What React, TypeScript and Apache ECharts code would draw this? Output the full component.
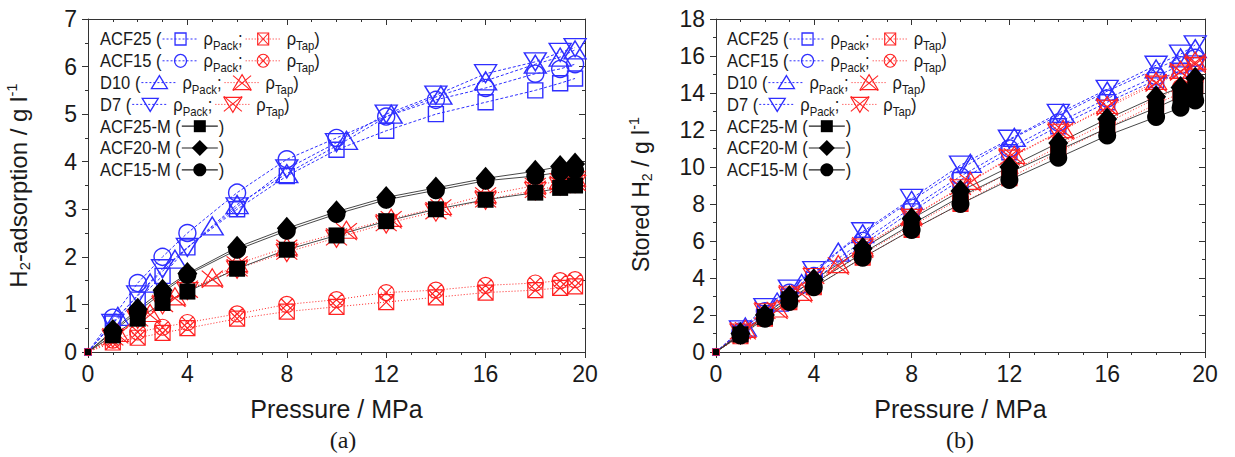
import React, { useEffect, useRef } from "react";
import * as echarts from "echarts";

// ---------- data ----------
const pStd = [0, 1, 2, 3, 4, 6, 8, 10, 12, 14, 16, 18, 19, 19.6];
const pD10 = [0, 1.2, 2.5, 3.5, 5, 6, 8, 10.4, 12.2, 14.2, 16, 18, 19, 19.6];

const xTicks = [0, 4, 8, 12, 16, 20];

// (a) H2 adsorption / g l-1
const aACF25Pack = [0, 0.6, 1.1, 1.6, 2.2, 3.0, 3.7, 4.25, 4.65, 5.0, 5.25, 5.5, 5.65, 5.75];
const aACF15Pack = [0, 0.72, 1.45, 2.0, 2.5, 3.35, 4.05, 4.5, 4.95, 5.3, 5.55, 5.85, 5.95, 6.05];
const aD10Pack = [0, 0.75, 1.45, 1.95, 2.65, 3.1, 3.75, 4.45, 5.0, 5.4, 5.7, 6.05, 6.2, 6.35];
const aD7Pack = [0, 0.6, 1.2, 1.75, 2.2, 3.05, 3.85, 4.4, 5.0, 5.4, 5.85, 6.1, 6.3, 6.4];
const aACF25Tap = [0, 0.2, 0.3, 0.4, 0.5, 0.7, 0.85, 0.95, 1.05, 1.15, 1.25, 1.3, 1.35, 1.38];
const aACF15Tap = [0, 0.25, 0.42, 0.52, 0.62, 0.8, 1.0, 1.1, 1.25, 1.3, 1.4, 1.45, 1.5, 1.52];
const aD10Tap = [0, 0.38, 0.8, 1.15, 1.55, 1.85, 2.2, 2.55, 2.8, 3.05, 3.3, 3.5, 3.6, 3.65];
const aD7Tap = [0, 0.3, 0.7, 1.0, 1.3, 1.75, 2.1, 2.4, 2.7, 2.95, 3.2, 3.4, 3.5, 3.55];
const aACF25M = [0, 0.35, 0.7, 1.03, 1.27, 1.75, 2.15, 2.45, 2.75, 3.0, 3.2, 3.35, 3.45, 3.5];
const aACF20M = [0, 0.45, 0.9, 1.3, 1.65, 2.2, 2.6, 2.95, 3.25, 3.45, 3.65, 3.8, 3.9, 3.95];
const aACF15M = [0, 0.42, 0.85, 1.25, 1.62, 2.15, 2.55, 2.9, 3.2, 3.4, 3.6, 3.7, 3.78, 3.82];

// (b) Stored H2 / g l-1
const bACF25Pack = [0, 1.0, 2.1, 3.0, 3.9, 5.8, 7.6, 9.3, 10.8, 12.2, 13.5, 14.7, 15.2, 15.6];
const bACF15Pack = [0, 1.1, 2.2, 3.2, 4.1, 6.0, 7.8, 9.5, 11.0, 12.4, 13.7, 14.9, 15.5, 15.9];
const bD10Pack = [0, 1.35, 2.7, 3.7, 5.4, 6.4, 8.2, 10.2, 11.6, 12.9, 14.1, 15.3, 15.9, 16.4];
const bD7Pack = [0, 1.2, 2.4, 3.4, 4.4, 6.5, 8.3, 10.1, 11.5, 12.9, 14.2, 15.5, 16.1, 16.6];
const bACF25Tap = [0, 0.85, 1.8, 2.7, 3.5, 5.1, 6.6, 8.0, 9.4, 10.8, 12.1, 13.4, 14.0, 14.4];
const bACF15Tap = [0, 0.9, 1.9, 2.8, 3.7, 5.3, 6.8, 8.3, 9.7, 11.1, 12.4, 13.7, 14.3, 14.7];
const bD10Tap = [0, 1.2, 2.3, 3.2, 4.7, 5.6, 7.3, 9.2, 10.6, 12.0, 13.3, 14.6, 15.2, 15.7];
const bD7Tap = [0, 1.1, 2.2, 3.1, 4.1, 5.7, 7.3, 8.9, 10.5, 11.9, 13.2, 14.5, 15.1, 15.5];
const bACF25M = [0, 0.95, 1.9, 2.85, 3.7, 5.35, 6.9, 8.4, 9.7, 10.9, 12.1, 13.2, 13.8, 14.2];
const bACF20M = [0, 1.0, 2.0, 3.0, 3.9, 5.6, 7.2, 8.7, 10.0, 11.3, 12.6, 13.8, 14.3, 14.8];
const bACF15M = [0, 0.9, 1.8, 2.7, 3.5, 5.1, 6.6, 8.0, 9.3, 10.5, 11.7, 12.7, 13.2, 13.6];

// ---------- styles ----------
const FONT = '"Liberation Sans", Arial, sans-serif';
const BLUE = "#2f2fff";
const RED = "#ff2222";
const INK = "#1a1a1a";
const AXIS = "#333333";

const SYM = {
  crossSquare: "path://M0,0L10,0L10,10L0,10Z M0,0L10,10 M10,0L0,10",
  crossCircle:
    "path://M10,5A5,5,0,1,1,0,5A5,5,0,1,1,10,5Z M1.46,1.46L8.54,8.54 M8.54,1.46L1.46,8.54",
  crossTri: "path://M5,0L10,9L0,9Z M0,1L10,10 M10,1L0,10",
  crossTriDown: "path://M0,1L10,1L5,10Z M0,0L10,9 M10,0L0,9",
};

type Kind =
  | "square"
  | "circle"
  | "tri"
  | "triDown"
  | "xSquare"
  | "xCircle"
  | "xTri"
  | "xTriDown"
  | "fSquare"
  | "fDiamond"
  | "fCircle";

function sizeFn(size: number | number[]) {
  return (val: number[]) => (val[0] === 0 ? 6 : size);
}

function seriesFor(
  name: string,
  xs: number[],
  ys: number[],
  kind: Kind,
  idx: number
): any {
  const data = xs.map((x, i) => [x, ys[i]]);
  const base: any = {
    name,
    type: "line",
    xAxisIndex: idx * 2,
    yAxisIndex: idx * 2,
    data,
    silent: true,
    symbolKeepAspect: false,
  };
  let size: number | number[];
  if (kind === "square" || kind === "circle" || kind === "tri" || kind === "triDown") {
    base.symbol = kind === "square" ? "rect" : kind === "circle" ? "circle" : "triangle";
    size = kind === "square" ? 15 : kind === "circle" ? 17 : [22, 18];
    if (kind === "triDown") base.symbolRotate = 180;
    base.itemStyle = { color: "rgba(255,255,255,0)", borderColor: BLUE, borderWidth: 1.4 };
    base.lineStyle = { color: BLUE, width: 1, type: [3, 2] };
  } else if (kind[0] === "x") {
    base.symbol =
      kind === "xSquare"
        ? SYM.crossSquare
        : kind === "xCircle"
        ? SYM.crossCircle
        : kind === "xTri"
        ? SYM.crossTri
        : SYM.crossTriDown;
    size = kind === "xSquare" ? 15 : kind === "xCircle" ? 16 : [21, 19];
    base.itemStyle = { color: "rgba(255,255,255,0)", borderColor: RED, borderWidth: 1.2 };
    base.lineStyle = { color: RED, width: 1, type: [1, 2] };
  } else {
    base.symbol = kind === "fSquare" ? "rect" : kind === "fDiamond" ? "diamond" : "circle";
    size = kind === "fSquare" ? 16 : kind === "fDiamond" ? [20, 23] : 18;
    base.itemStyle = { color: "#000", borderColor: "#000", borderWidth: 0 };
    base.lineStyle = { color: "#333", width: 0.9, type: "solid" };
  }
  base.symbolSize = sizeFn(size);
  return base;
}

// ---------- legend graphics ----------
const LEG_SIZE = 19;
const SUB_SIZE = 13;
const TEXT_SX = 0.87;

const measureCtx = document.createElement("canvas").getContext("2d")!;
function measure(text: string, size: number): number {
  measureCtx.font = `${size}px "Liberation Sans"`;
  return measureCtx.measureText(text).width * TEXT_SX;
}

function markShapes(kind: Kind, cx: number, cy: number): any[] {
  const blue = { fill: "none", stroke: BLUE, lineWidth: 1.3 };
  const red = { fill: "none", stroke: RED, lineWidth: 1.1 };
  const blk = { fill: "#000", stroke: "#000", lineWidth: 0 };
  const ln = (x1: number, y1: number, x2: number, y2: number, st: any) => ({
    type: "line",
    shape: { x1, y1, x2, y2 },
    style: { stroke: st.stroke, lineWidth: st.lineWidth },
  });
  switch (kind) {
    case "square":
      return [{ type: "rect", shape: { x: cx - 5.5, y: cy - 6, width: 11, height: 12 }, style: blue }];
    case "circle":
      return [{ type: "ellipse", shape: { cx, cy, rx: 6, ry: 6.5 }, style: blue }];
    case "tri":
      return [
        { type: "polygon", shape: { points: [[cx, cy - 7], [cx + 8, cy + 6], [cx - 8, cy + 6]] }, style: blue },
      ];
    case "triDown":
      return [
        { type: "polygon", shape: { points: [[cx - 8, cy - 6], [cx + 8, cy - 6], [cx, cy + 7]] }, style: blue },
      ];
    case "xSquare":
      return [
        { type: "rect", shape: { x: cx - 5.5, y: cy - 6, width: 11, height: 12 }, style: red },
        ln(cx - 5.5, cy - 6, cx + 5.5, cy + 6, red),
        ln(cx + 5.5, cy - 6, cx - 5.5, cy + 6, red),
      ];
    case "xCircle":
      return [
        { type: "ellipse", shape: { cx, cy, rx: 6, ry: 6.5 }, style: red },
        ln(cx - 4.3, cy - 4.6, cx + 4.3, cy + 4.6, red),
        ln(cx + 4.3, cy - 4.6, cx - 4.3, cy + 4.6, red),
      ];
    case "xTri":
      return [
        { type: "polygon", shape: { points: [[cx, cy - 8], [cx + 9, cy + 7], [cx - 9, cy + 7]] }, style: red },
        ln(cx - 9, cy - 7, cx + 9, cy + 8, red),
        ln(cx + 9, cy - 7, cx - 9, cy + 8, red),
      ];
    case "xTriDown":
      return [
        { type: "polygon", shape: { points: [[cx - 9, cy - 7], [cx + 9, cy - 7], [cx, cy + 8]] }, style: red },
        ln(cx - 9, cy - 8, cx + 9, cy + 7, red),
        ln(cx + 9, cy - 8, cx - 9, cy + 7, red),
      ];
    case "fSquare":
      return [{ type: "rect", shape: { x: cx - 6, y: cy - 6, width: 12, height: 12 }, style: blk }];
    case "fDiamond":
      return [
        { type: "polygon", shape: { points: [[cx, cy - 8], [cx + 8, cy], [cx, cy + 8], [cx - 8, cy]] }, style: blk },
      ];
    case "fCircle":
      return [{ type: "circle", shape: { cx, cy, r: 6.5 }, style: blk }];
  }
  return [];
}

type Piece =
  | { t: "text"; s: string }
  | { t: "sub"; s: string }
  | { t: "gap"; w: number }
  | { t: "mark"; kind: Kind; w: number };

function legendRow(x0: number, y: number, pieces: Piece[]): any[] {
  const out: any[] = [];
  let x = x0;
  for (const p of pieces) {
    if (p.t === "text" || p.t === "sub") {
      const fs = p.t === "text" ? LEG_SIZE : SUB_SIZE;
      out.push({
        type: "text",
        x,
        y: p.t === "text" ? y : y + 7,
        scaleX: TEXT_SX,
        silent: true,
        style: { text: p.s, fontSize: fs, fontFamily: FONT, fill: INK, verticalAlign: "middle", align: "left" },
      });
      x += measure(p.s, fs);
    } else if (p.t === "gap") {
      x += p.w;
    } else {
      const kind = p.kind;
      const cx = x + p.w / 2;
      let st: any;
      if (kind === "square" || kind === "circle" || kind === "tri" || kind === "triDown")
        st = { stroke: BLUE, lineWidth: 1, lineDash: [2, 2] };
      else if (kind[0] === "x") st = { stroke: RED, lineWidth: 1, lineDash: [1, 2] };
      else st = { stroke: "#222", lineWidth: 1.2 };
      out.push({ type: "line", silent: true, shape: { x1: x + 1, y1: y, x2: x + p.w - 1, y2: y }, style: st });
      out.push(...markShapes(kind, cx, y).map((e) => ({ ...e, silent: true })));
      x += p.w;
    }
  }
  return out;
}

const legendPack: [string, Kind, Kind][] = [
  ["ACF25 (", "square", "xSquare"],
  ["ACF15 (", "circle", "xCircle"],
  ["D10 (", "tri", "xTri"],
  ["D7 (", "triDown", "xTriDown"],
];
const legendM: [string, Kind][] = [
  ["ACF25-M (", "fSquare"],
  ["ACF20-M (", "fDiamond"],
  ["ACF15-M (", "fCircle"],
];

function buildLegend(x0: number, y0: number, dy: number): any[] {
  const els: any[] = [];
  legendPack.forEach(([label, k1, k2], i) => {
    els.push(
      ...legendRow(x0, y0 + i * dy, [
        { t: "text", s: label },
        { t: "mark", kind: k1, w: 38 },
        { t: "gap", w: 4 },
        { t: "text", s: "ρ" },
        { t: "sub", s: "Pack" },
        { t: "text", s: ";" },
        { t: "gap", w: 2 },
        { t: "mark", kind: k2, w: 37 },
        { t: "gap", w: 5 },
        { t: "text", s: "ρ" },
        { t: "sub", s: "Tap" },
        { t: "text", s: ")" },
      ])
    );
  });
  legendM.forEach(([label, k], i) => {
    els.push(
      ...legendRow(x0, y0 + (i + 4) * dy, [
        { t: "text", s: label },
        { t: "mark", kind: k, w: 38 },
        { t: "text", s: ")" },
      ])
    );
  });
  return els;
}

// ---------- axes ----------
function xAxes(grid: number): any[] {
  const common = {
    gridIndex: grid,
    type: "value",
    min: 0,
    max: 20,
    interval: 4,
    splitLine: { show: false },
    axisLine: { show: true, onZero: false, lineStyle: { color: AXIS, width: 1 } },
    minorTick: { show: true, splitNumber: 4, length: 3, lineStyle: { color: AXIS } },
  };
  return [
    {
      ...common,
      position: "bottom",
      axisTick: { show: true, inside: false, length: 6, lineStyle: { color: AXIS } },
      axisLabel: {
        fontSize: 23,
        color: INK,
        fontFamily: FONT,
        margin: 10,
        formatter: (v: number) => (xTicks.includes(v) ? String(v) : ""),
      },
      name: "Pressure / MPa",
      nameLocation: "middle",
      nameGap: 44,
      nameTextStyle: { fontSize: 25, color: INK, fontFamily: FONT },
    },
    {
      ...common,
      position: "top",
      axisTick: { show: true, inside: true, length: 6, lineStyle: { color: AXIS } },
      axisLabel: { show: false },
    },
  ];
}

function yAxes(
  grid: number,
  max: number,
  interval: number,
  name: string,
  gap: number,
  fs: number,
  pad: number[]
): any[] {
  const common = {
    gridIndex: grid,
    type: "value",
    min: 0,
    max,
    interval,
    splitLine: { show: false },
    axisLine: { show: true, onZero: false, lineStyle: { color: AXIS, width: 1 } },
    minorTick: { show: true, splitNumber: 2, length: 3, lineStyle: { color: AXIS } },
  };
  const rich = {
    n: { fontSize: fs, fontFamily: FONT, color: INK, lineHeight: fs + 4 },
    s: { fontSize: fs * 0.62, fontFamily: FONT, color: INK, lineHeight: 14, verticalAlign: "bottom" },
    p: { fontSize: fs * 0.62, fontFamily: FONT, color: INK, lineHeight: 14, verticalAlign: "top" },
  };
  return [
    {
      ...common,
      position: "left",
      axisTick: { show: true, inside: false, length: 6, lineStyle: { color: AXIS } },
      axisLabel: { fontSize: 23, color: INK, fontFamily: FONT, margin: 11 },
      name,
      nameLocation: "middle",
      nameRotate: 90,
      nameGap: gap,
      nameTextStyle: { rich, padding: pad },
    },
    {
      ...common,
      position: "right",
      axisTick: { show: true, inside: true, length: 6, lineStyle: { color: AXIS } },
      axisLabel: { show: false },
    },
  ];
}

export default function App() {
  const ref = useRef<HTMLDivElement>(null);
  useEffect(() => {
    document.body.style.margin = "0";
    if (!ref.current) return;
    const chart = echarts.init(ref.current, null, { renderer: "svg" });

    const series = [
      // (a)
      seriesFor("ACF25 pack", pStd, aACF25Pack, "square", 0),
      seriesFor("ACF15 pack", pStd, aACF15Pack, "circle", 0),
      seriesFor("D10 pack", pD10, aD10Pack, "tri", 0),
      seriesFor("D7 pack", pStd, aD7Pack, "triDown", 0),
      seriesFor("ACF25 tap", pStd, aACF25Tap, "xSquare", 0),
      seriesFor("ACF15 tap", pStd, aACF15Tap, "xCircle", 0),
      seriesFor("D10 tap", pD10, aD10Tap, "xTri", 0),
      seriesFor("D7 tap", pStd, aD7Tap, "xTriDown", 0),
      seriesFor("ACF25-M", pStd, aACF25M, "fSquare", 0),
      seriesFor("ACF20-M", pStd, aACF20M, "fDiamond", 0),
      seriesFor("ACF15-M", pStd, aACF15M, "fCircle", 0),
      // (b)
      seriesFor("ACF25 pack", pStd, bACF25Pack, "square", 1),
      seriesFor("ACF15 pack", pStd, bACF15Pack, "circle", 1),
      seriesFor("D10 pack", pD10, bD10Pack, "tri", 1),
      seriesFor("D7 pack", pStd, bD7Pack, "triDown", 1),
      seriesFor("ACF25 tap", pStd, bACF25Tap, "xSquare", 1),
      seriesFor("ACF15 tap", pStd, bACF15Tap, "xCircle", 1),
      seriesFor("D10 tap", pD10, bD10Tap, "xTri", 1),
      seriesFor("D7 tap", pStd, bD7Tap, "xTriDown", 1),
      seriesFor("ACF25-M", pStd, bACF25M, "fSquare", 1),
      seriesFor("ACF20-M", pStd, bACF20M, "fDiamond", 1),
      seriesFor("ACF15-M", pStd, bACF15M, "fCircle", 1),
    ];

    const graphic = [
      ...buildLegend(100, 39, 21.8),
      ...buildLegend(727, 39, 21.8),
      {
        type: "text",
        x: 343,
        y: 440,
        silent: true,
        style: { text: "(a)", fontSize: 24, fontFamily: '"Liberation Serif", serif', fill: INK, align: "center", verticalAlign: "middle" },
      },
      {
        type: "text",
        x: 960,
        y: 440,
        silent: true,
        style: { text: "(b)", fontSize: 24, fontFamily: '"Liberation Serif", serif', fill: INK, align: "center", verticalAlign: "middle" },
      },
    ];

    chart.setOption({
      animation: false,
      backgroundColor: "#fff",
      grid: [
        { left: 88, top: 19, width: 497, height: 333 },
        { left: 716, top: 19, width: 489, height: 333 },
      ],
      xAxis: [...xAxes(0), ...xAxes(1)],
      yAxis: [
        ...yAxes(0, 7, 1, "{n|H}{s|2}{n|-adsorption / g l}{p|-1}", 56, 24, [0, 0, 0, 0]),
        ...yAxes(1, 18, 2, "{n|Stored H}{s|2}{n| / g l}{p|-1}", 62, 23, [0, 18, 0, 0]),
      ],
      series,
      graphic,
    });
    return () => chart.dispose();
  }, []);
  return <div ref={ref} style={{ width: 1235, height: 457 }} />;
}
